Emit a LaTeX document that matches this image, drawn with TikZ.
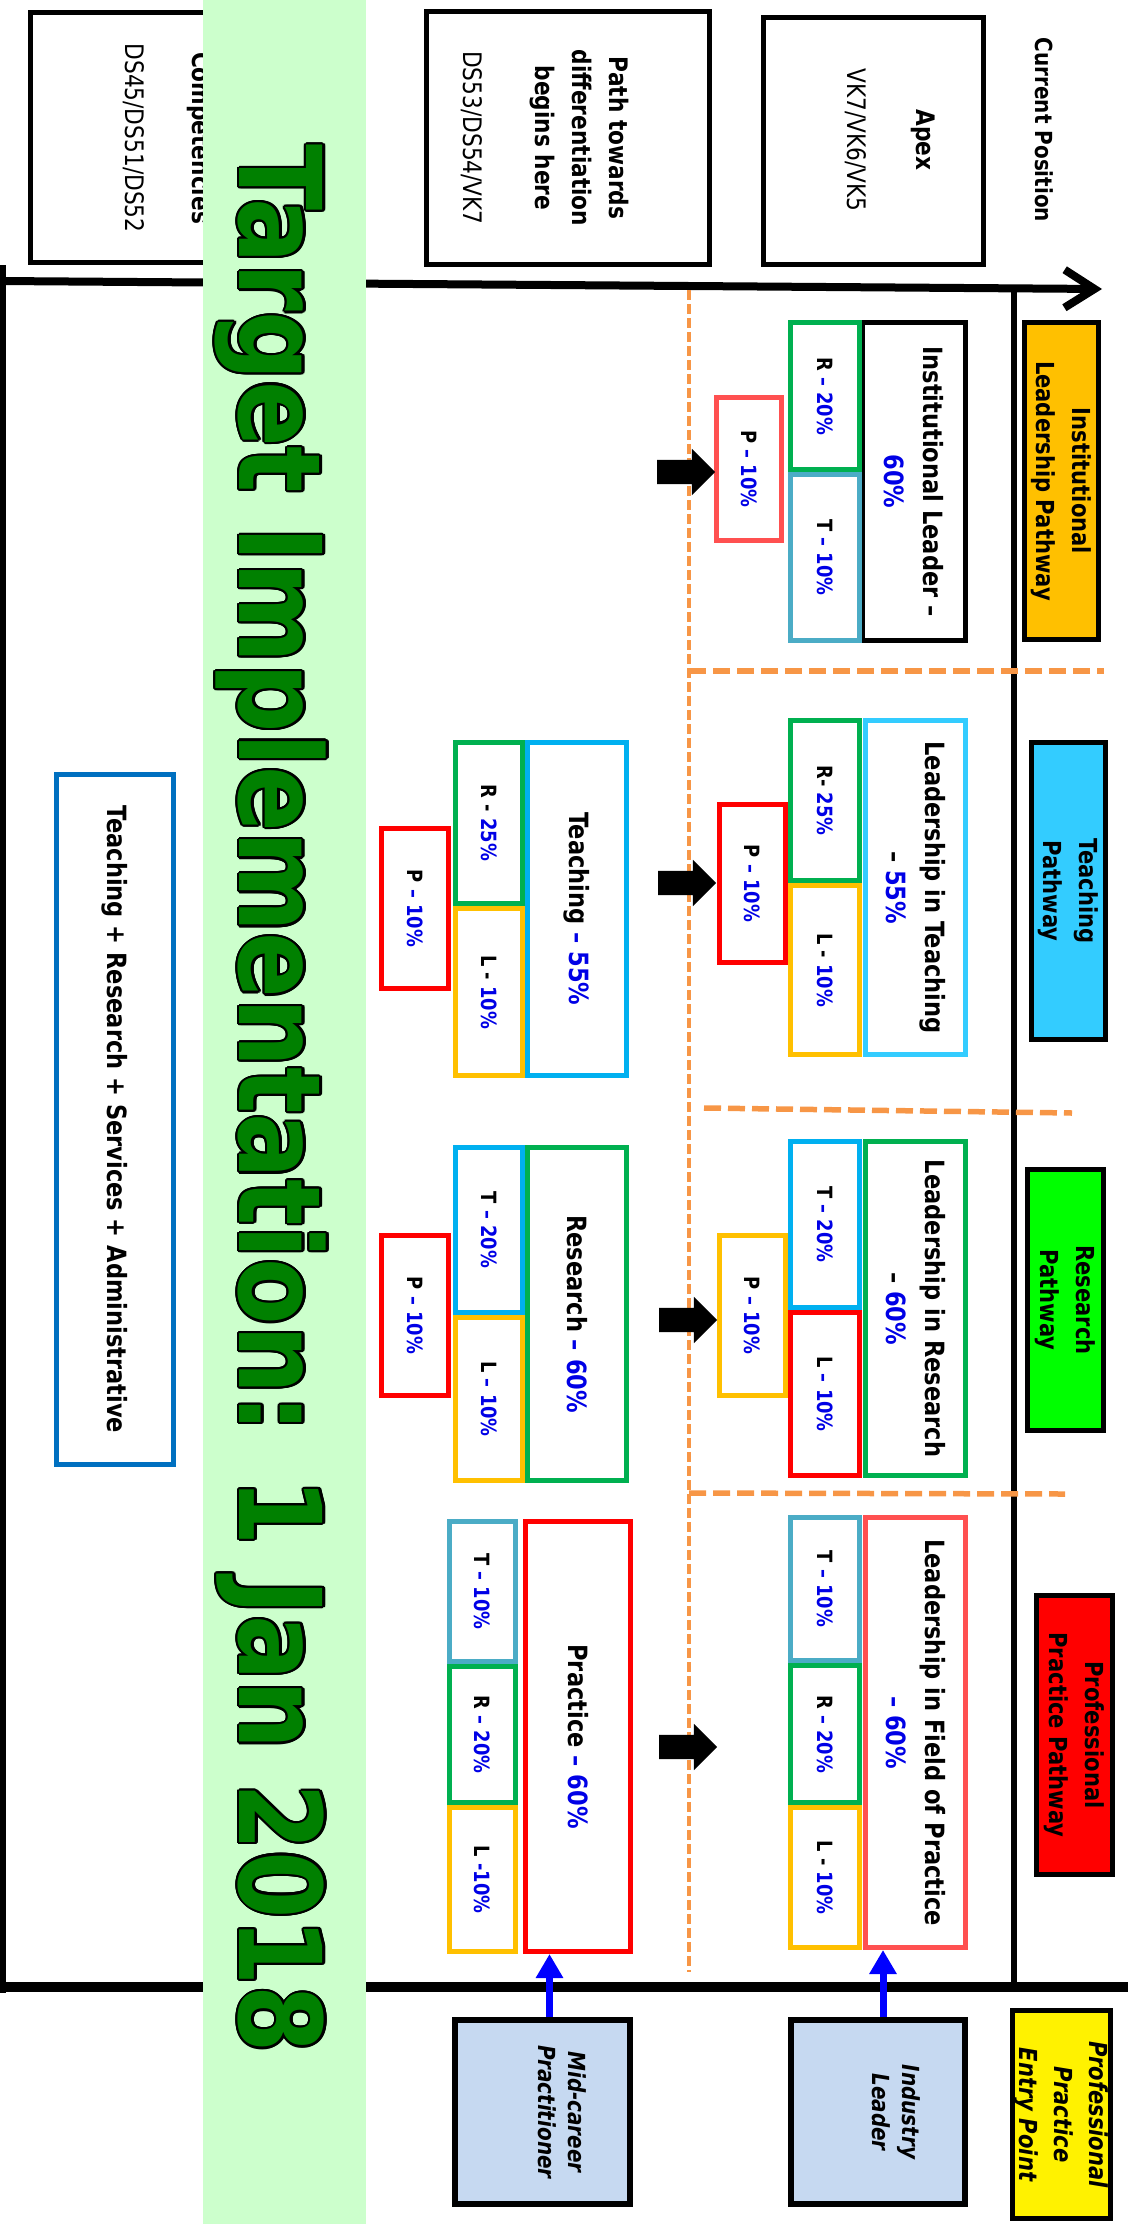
\documentclass[tikz,border=0pt]{standalone}
\usepackage{fontspec}
\setmainfont{DejaVu Sans}[FakeStretch=0.85]
\usetikzlibrary{arrows.meta,shapes.arrows}
\definecolor{bandgreen}{HTML}{CCFFCC}
\definecolor{titlegreen}{HTML}{008000}
\definecolor{dashorange}{HTML}{F79646}
\definecolor{goldc}{HTML}{FFC000}
\definecolor{resgreen}{HTML}{00B050}
\definecolor{tealc}{HTML}{4BACC6}
\definecolor{skyc}{HTML}{33CCFF}
\definecolor{teachblue}{HTML}{00B0F0}
\definecolor{lightred}{HTML}{FF5050}
\definecolor{pctblue}{HTML}{0000E6}
\definecolor{admblue}{HTML}{0070C0}
\definecolor{entryblue}{HTML}{C6D9F1}
\definecolor{brightgreen}{HTML}{00FF00}
\definecolor{arrowblue}{HTML}{0000FF}

\newcommand{\pct}[1]{\textcolor{pctblue}{#1}}
\newcommand{\panel}[8]{%
  \node[frame,#2,minimum width={#5-#3-5},minimum height={#6-#4-5}] (#1) at ({(#3+#5)/2},{(#4+#6)/2}) {};
  \node[#7] (#1-t) at (#1.center) {#8};}

\begin{document}
\begin{tikzpicture}[x=1pt,y=-1pt,
  frame/.style={draw,line width=5pt,fill=white,inner sep=0pt},
  toptxt/.style={rotate=-90,align=center,inner sep=0pt,font=\fontsize{25.5}{37}\selectfont},
  mlbl/.style={rotate=-90,align=center,inner sep=0pt,font=\bfseries\fontsize{26.5}{39}\selectfont},
  slbl/.style={rotate=-90,inner sep=0pt,font=\bfseries\fontsize{21}{24}\selectfont},
  plbl/.style={rotate=-90,align=center,inner sep=0pt,font=\bfseries\fontsize{24.8}{36}\selectfont},
  ilbl/.style={rotate=-90,align=center,inner sep=0pt,font=\bfseries\itshape\fontsize{23.5}{30}\selectfont},
  title/.style={rotate=-90,inner sep=0pt,font=\bfseries\fontsize{114}{130}\selectfont},
  blk/.style={single arrow,fill=black,inner sep=12pt,minimum height=58pt,single arrow head extend=11pt},
  sepline/.style={dashorange,line width=4pt,dash pattern=on 10pt off 4pt},
  rowline/.style={dashorange,line width=5.5pt,dash pattern=on 17pt off 7pt},
  uparrow/.style={arrowblue,line width=7pt,-{Triangle[length=24pt,width=26pt]}}]
\useasboundingbox (0,0) rectangle (1128,2224);

% frame lines
\coordinate (axisL) at (0,281);
\coordinate (axisR) at (1102,289);
\coordinate (baseL) at (0,1987);
\coordinate (baseR) at (1128,1987);
\coordinate (leftT) at (3,265);
\coordinate (leftB) at (3,1993);
\coordinate (rightT) at (1014,287);
\coordinate (rightB) at (1014,1987);
\draw[line width=6pt] (leftT) -- (leftB);
\draw[line width=6pt] (rightT) -- (rightB);
\draw[line width=10pt] (baseL) -- (baseR);
\draw[line width=8pt,-{Straight Barb[length=30pt,width=38pt]}] (axisL) -- (axisR);

% separators
\coordinate (sepT) at (689,290);
\coordinate (sepB) at (689,1972);
\draw[sepline] (sepT) -- (sepB);
\coordinate (row1L) at (689,671);
\coordinate (row1R) at (1104,671);
\coordinate (row2L) at (704,1108);
\coordinate (row2R) at (1072,1113);
\coordinate (row3L) at (689,1493);
\coordinate (row3R) at (1065,1494);
\draw[rowline] (row1L) -- (row1R);
\draw[rowline] (row2L) -- (row2R);
\draw[rowline] (row3L) -- (row3R);

% top row
\node[frame,minimum width=207,minimum height=250] (comp) at (134,137.5) {};
\node[toptxt,anchor=base] (comp-t) at (125,138) {\textbf{Competencies}\\[30pt]DS45/DS51/DS52};
\node[frame,minimum width=283,minimum height=253] (path) at (568,138) {};
\node[toptxt] (path-t) at (545,138) {\textbf{Path towards}\\\textbf{differentiation}\\\textbf{begins here}\\[35pt]DS53/DS54/VK7};
\node[frame,minimum width=220,minimum height=247] (apex) at (873.5,141) {};
\node[toptxt] (apex-t) at (890,140) {\textbf{Apex}\\[32pt]VK7/VK6/VK5};
\node[toptxt,font=\bfseries\fontsize{23.5}{30}\selectfont] (curpos) at (1044,130) {Current Position};

% pathways
\panel{ilp}{fill=goldc}{1022}{320}{1101}{642}{plbl}{Institutional\\Leadership Pathway}
\panel{tpw}{fill=skyc}{1029}{740}{1108}{1042}{plbl}{Teaching\\Pathway}
\panel{rpw}{fill=brightgreen}{1025}{1167}{1106}{1433}{plbl}{Research\\Pathway}
\panel{ppw}{fill=red}{1034}{1593}{1115}{1877}{plbl}{Professional\\Practice Pathway}
\panel{entry}{fill=yellow}{1010}{2008}{1113}{2221}{ilbl,font=\bfseries\itshape\fontsize{24.8}{35}\selectfont}{Professional\\Practice\\Entry Point}

% institutional leader
\panel{ilmain}{}{860}{320}{968}{643}{mlbl}{Institutional Leader \textendash\\\pct{60\%}}
\panel{ilR}{draw=resgreen}{788}{320}{862}{472}{slbl}{R \pct{\textendash{} 20\%}}
\panel{ilT}{draw=tealc}{788}{472}{862}{643}{slbl}{T \pct{\textendash{} 10\%}}
\panel{ilP}{draw=lightred}{714}{395}{784}{543}{slbl}{P \pct{\textendash{} 10\%}}
\node[blk] (ilarr) at (680,472) {};

% teaching
\panel{tlmain}{draw=skyc}{863}{718}{968}{1057}{mlbl}{Leadership in Teaching\\\textendash{} \pct{55\%}}
\panel{tlR}{draw=resgreen}{788}{718}{862}{883}{slbl}{R- \pct{25\%}}
\panel{tlL}{draw=goldc}{788}{883}{862}{1057}{slbl}{L - \pct{10\%}}
\panel{tlP}{draw=red}{717}{802}{788}{965}{slbl}{P \pct{\textendash{} 10\%}}
\node[blk] (tlarr) at (681,883) {};
\panel{tmain}{draw=teachblue}{525}{740}{629}{1078}{mlbl}{Teaching \pct{\textendash{} 55\%}}
\panel{tR}{draw=resgreen}{453}{740}{525}{906}{slbl}{R - \pct{25\%}}
\panel{tL}{draw=goldc}{453}{906}{525}{1078}{slbl}{L - \pct{10\%}}
\panel{tP}{draw=red}{379}{826}{451}{991}{slbl}{P \pct{\textendash{} 10\%}}

\panel{trsa}{draw=admblue}{54}{772}{176}{1467}{mlbl}{Teaching + Research + Services + Administrative}

% research
\panel{rlmain}{draw=resgreen}{863}{1139}{968}{1478}{mlbl}{Leadership in Research\\\textendash{} \pct{60\%}}
\panel{rlT}{draw=teachblue}{788}{1139}{862}{1310}{slbl}{T \pct{\textendash{} 20\%}}
\panel{rlL}{draw=red}{788}{1310}{862}{1478}{slbl}{L \pct{\textendash{} 10\%}}
\panel{rlP}{draw=goldc}{717}{1233}{788}{1398}{slbl}{P \pct{\textendash{} 10\%}}
\node[blk] (rlarr) at (682,1320) {};
\panel{rmain}{draw=resgreen}{525}{1145}{629}{1483}{mlbl}{Research \pct{\textendash{} 60\%}}
\panel{rT}{draw=teachblue}{453}{1145}{525}{1315}{slbl}{T \pct{\textendash{} 20\%}}
\panel{rL}{draw=goldc}{453}{1315}{525}{1483}{slbl}{L \pct{\textendash{} 10\%}}
\panel{rP}{draw=red}{379}{1233}{451}{1398}{slbl}{P \pct{\textendash{} 10\%}}

% practice
\panel{plmain}{draw=lightred}{863}{1515}{968}{1950}{mlbl}{Leadership in Field of Practice\\\pct{\textendash{} 60\%}}
\panel{plT}{draw=tealc}{788}{1515}{862}{1663}{slbl}{T \pct{\textendash{} 10\%}}
\panel{plR}{draw=resgreen}{788}{1663}{862}{1805}{slbl}{R \pct{\textendash{} 20\%}}
\panel{plL}{draw=goldc}{788}{1805}{862}{1950}{slbl}{L - \pct{10\%}}
\node[blk] (plarr) at (682,1747) {};
\panel{pmain}{draw=red}{523}{1519}{633}{1954}{mlbl}{Practice \pct{\textendash{} 60\%}}
\panel{pT}{draw=tealc}{447}{1519}{518}{1664}{slbl}{T \pct{\textendash{} 10\%}}
\panel{pR}{draw=resgreen}{447}{1664}{518}{1805}{slbl}{R \pct{\textendash{} 20\%}}
\panel{pL}{draw=goldc}{447}{1805}{518}{1954}{slbl}{L \pct{-10\%}}

% entry points
\node[frame,fill=entryblue,line width=6pt,minimum width=175,minimum height=184] (mid) at (542.5,2112) {};
\node[ilbl] (mid-t) at (562,2112) {Mid-career\\Practitioner};
\node[frame,fill=entryblue,line width=6pt,minimum width=174,minimum height=184] (ind) at (878,2112) {};
\node[ilbl] (ind-t) at (896,2112) {Industry\\Leader};
\coordinate (midtop) at ([xshift=7pt]mid.north);
\coordinate (indtop) at ([xshift=5pt]ind.north);
\draw[uparrow] (midtop) -- (midtop |- pmain.south);
\draw[uparrow] (indtop) -- (indtop |- plmain.south);

% date band
\fill[bandgreen] (203,0) rectangle (366,2224);
\foreach \a [count=\i] in {0,22.5,...,337.5}
  \node[title,text=black,shift={(\a:2.2)}] (ttlshade\i) at (271,1099) {Target Implementation: 1 Jan 2018};
\node[title,text=titlegreen] (ttl) at (271,1099) {Target Implementation: 1 Jan 2018};
\end{tikzpicture}
\end{document}
